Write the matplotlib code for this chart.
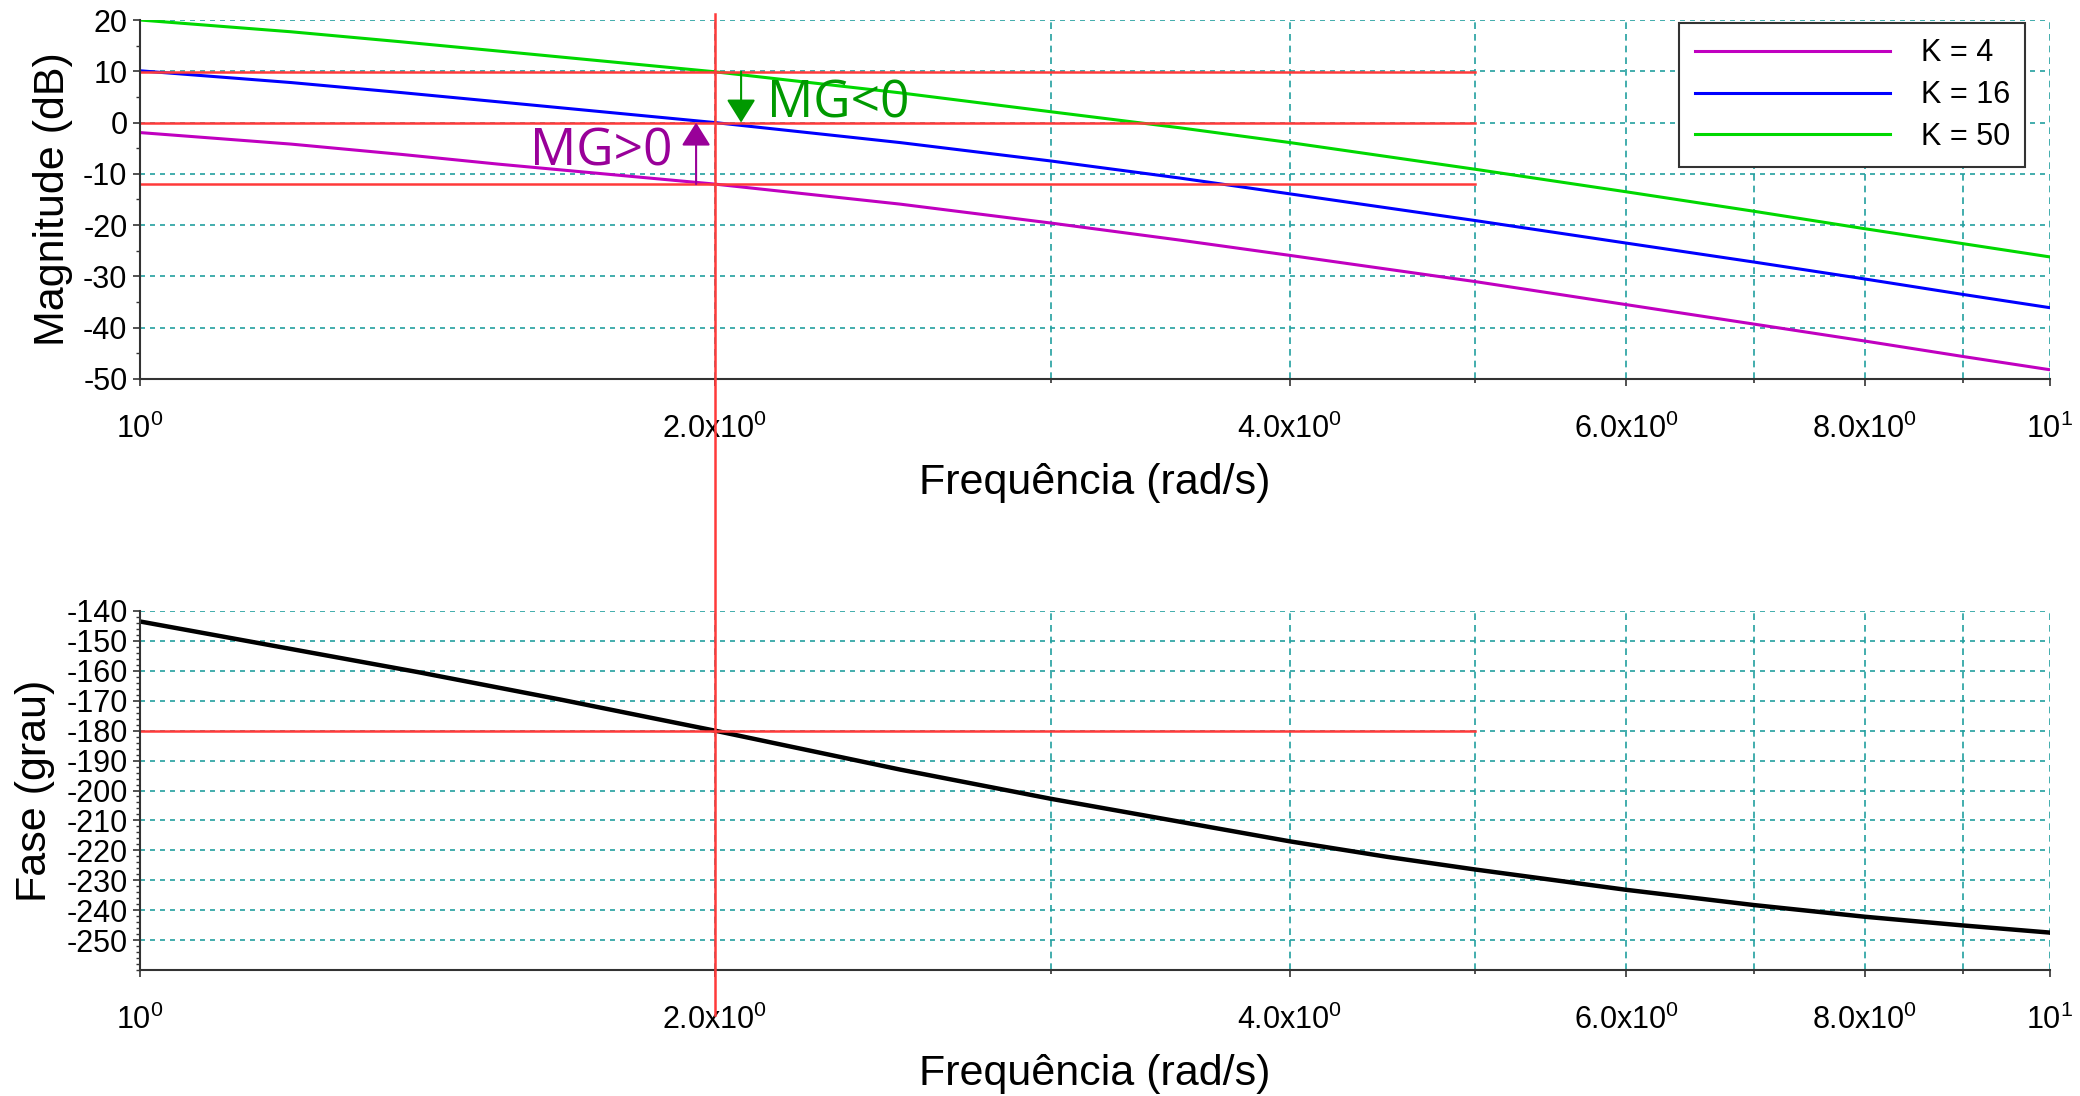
import matplotlib
matplotlib.use('Agg')
import matplotlib.pyplot as plt
import matplotlib.transforms as mtransforms
from matplotlib.lines import Line2D
from matplotlib.ticker import NullFormatter

plt.rcParams['font.family'] = ['Liberation Sans', 'DejaVu Sans']
plt.rcParams['mathtext.fontset'] = 'custom'
plt.rcParams['mathtext.rm'] = 'Liberation Sans'
plt.rcParams['mathtext.it'] = 'Liberation Sans'
plt.rcParams['axes.unicode_minus'] = False

# magnitude curves (dB)
w_mag = [1.0, 1.2, 1.37, 1.54, 2.0, 2.5, 3.0, 3.5, 4.0, 5.0, 6.0, 7.0, 8.0, 9.0, 10.0]
mag_k4 = [-1.95, -4.2, -6.2, -8.1, -12.0, -15.9, -19.6, -22.9, -25.9, -31.0, -35.5, -39.3, -42.6, -45.6, -48.2]
mag_k16 = [10.1, 7.8, 5.85, 4.05, 0.0, -3.9, -7.5, -10.8, -13.9, -19.1, -23.5, -27.2, -30.5, -33.5, -36.1]
mag_k50 = [20.0, 17.7, 15.75, 13.95, 9.9, 5.8, 2.1, -1.0, -3.9, -9.1, -13.5, -17.3, -20.7, -23.6, -26.2]
labels_k = ['K = 4', 'K = 16', 'K = 50']

# phase curve (degrees)
w_fase = [1.0, 1.4, 1.66, 2.0, 2.5, 3.0, 3.5, 4.0, 4.5, 5.0, 6.0, 7.0, 8.0, 9.0, 10.0]
fase = [-143.5, -160.5, -169.6, -180.0, -193.0, -202.8, -210.4, -217.0, -222.2, -226.4,
        -233.2, -238.3, -242.2, -245.1, -247.5]

# reference lines
w_ref = [1.0, 5.0]
mag_ref = [9.9, 0.0, -12.0]
fase_ref = -180.0
w_cross = 2.0

xticks = [1, 2, 4, 6, 8, 10]
xtick_labels = [r'$\mathregular{10^{0}}$', r'$\mathregular{2.0x10^{0}}$', r'$\mathregular{4.0x10^{0}}$',
                r'$\mathregular{6.0x10^{0}}$', r'$\mathregular{8.0x10^{0}}$', r'$\mathregular{10^{1}}$']
xminor = [3, 5, 7, 9]

red = '#ff3a3a'
grid_c = '#22a0a0'
axis_c = '#333333'
purple = '#990099'
dgreen = '#009900'

fig = plt.figure(figsize=(20.8, 10.96), dpi=100)
ax1 = fig.add_axes([140/2080, 1-379/1096, 1910/2080, 359/1096])
ax2 = fig.add_axes([140/2080, 1-970/1096, 1910/2080, 359/1096])


def style(ax):
    ax.set_xscale('log')
    ax.set_xlim(1, 10)
    ax.set_xticks(xticks, labels=xtick_labels)
    ax.set_xticks(xminor, minor=True)
    ax.xaxis.set_minor_formatter(NullFormatter())
    for s in ['top', 'right']:
        ax.spines[s].set_visible(False)
    for s in ['left', 'bottom']:
        ax.spines[s].set_color(axis_c)
        ax.spines[s].set_linewidth(1.5)
    ax.grid(True, which='both', axis='x', color=grid_c, linestyle=(0, (4, 3)), linewidth=1.2)
    ax.grid(True, which='major', axis='y', color=grid_c, linestyle=(0, (3, 3)), linewidth=1.2)
    ax.tick_params(axis='x', which='major', direction='out', length=5, width=1.2, pad=20,
                   labelsize=22, color=axis_c)
    ax.tick_params(axis='x', which='minor', direction='out', length=3, width=1.2, color=axis_c)
    ax.tick_params(axis='y', which='major', direction='out', length=5, width=1.2, pad=4,
                   labelsize=22, color=axis_c)
    ax.tick_params(axis='y', which='minor', direction='out', length=3, width=1.0, color=axis_c)
    ax.set_xlabel('Frequência (rad/s)', fontsize=31)
    ax.xaxis.set_label_coords(0.5, -0.235)
    ax.set_axisbelow(True)


# magnitude
style(ax1)
ax1.plot(w_mag, mag_k4, color='#c000c0', lw=2.2, label=labels_k[0])
ax1.plot(w_mag, mag_k16, color='#0000ff', lw=2.2, label=labels_k[1])
ax1.plot(w_mag, mag_k50, color='#00d800', lw=2.2, label=labels_k[2])
for v in mag_ref:
    ax1.plot(w_ref, [v, v], color=red, lw=1.8)
ax1.set_ylim(-50, 20)
ax1.set_yticks(range(-50, 21, 10))
ax1.set_yticks(range(-50, 21, 5), minor=True)
ax1.set_ylabel('Magnitude (dB)', fontsize=31)
ax1.yaxis.set_label_coords(-0.035, 0.5)

leg = ax1.legend(loc='upper right', bbox_to_anchor=(0.987, 0.9916), fontsize=22, frameon=True,
                 fancybox=False, edgecolor=axis_c, framealpha=1, handlelength=6.4,
                 handletextpad=1.0, labelspacing=0.39, borderpad=0.5, borderaxespad=0)
leg.get_frame().set_linewidth(1.5)

# gain margin arrows
ax1.annotate('', xy=(2.064, 0.0), xytext=(2.064, 9.9),
             arrowprops=dict(arrowstyle='-|>,head_length=0.8,head_width=0.5', color=dgreen,
                             lw=1.5, mutation_scale=18, shrinkA=0, shrinkB=0))
ax1.annotate('', xy=(1.955, 0.0), xytext=(1.955, -12.0),
             arrowprops=dict(arrowstyle='-|>,head_length=0.8,head_width=0.5', color=purple,
                             lw=1.5, mutation_scale=18, shrinkA=0, shrinkB=0))
ax1.text(2.13, 0.9, 'MG<0', color=dgreen, fontsize=37, family=['Open Sans', 'DejaVu Sans'],
         va='baseline', ha='left')
ax1.text(1.6, -8.3, 'MG>0', color=purple, fontsize=37, family=['Open Sans', 'DejaVu Sans'],
         va='baseline', ha='left')

# phase
style(ax2)
ax2.plot(w_fase, fase, color='black', lw=3.2)
ax2.plot(w_ref, [fase_ref, fase_ref], color=red, lw=1.8)
ax2.set_ylim(-260, -140)
ax2.set_yticks(range(-250, -139, 10))
ax2.set_yticks(range(-260, -139, 2), minor=True)
ax2.set_ylabel('Fase (grau)', fontsize=31)
ax2.yaxis.set_label_coords(-0.0445, 0.5)

# vertical line at the phase crossover, spanning both plots
trans = mtransforms.blended_transform_factory(ax1.transData, fig.transFigure)
fig.add_artist(Line2D([w_cross, w_cross], [0.074, 0.987], transform=trans, color=red, lw=1.8))

fig.savefig('out.png', dpi=100)
